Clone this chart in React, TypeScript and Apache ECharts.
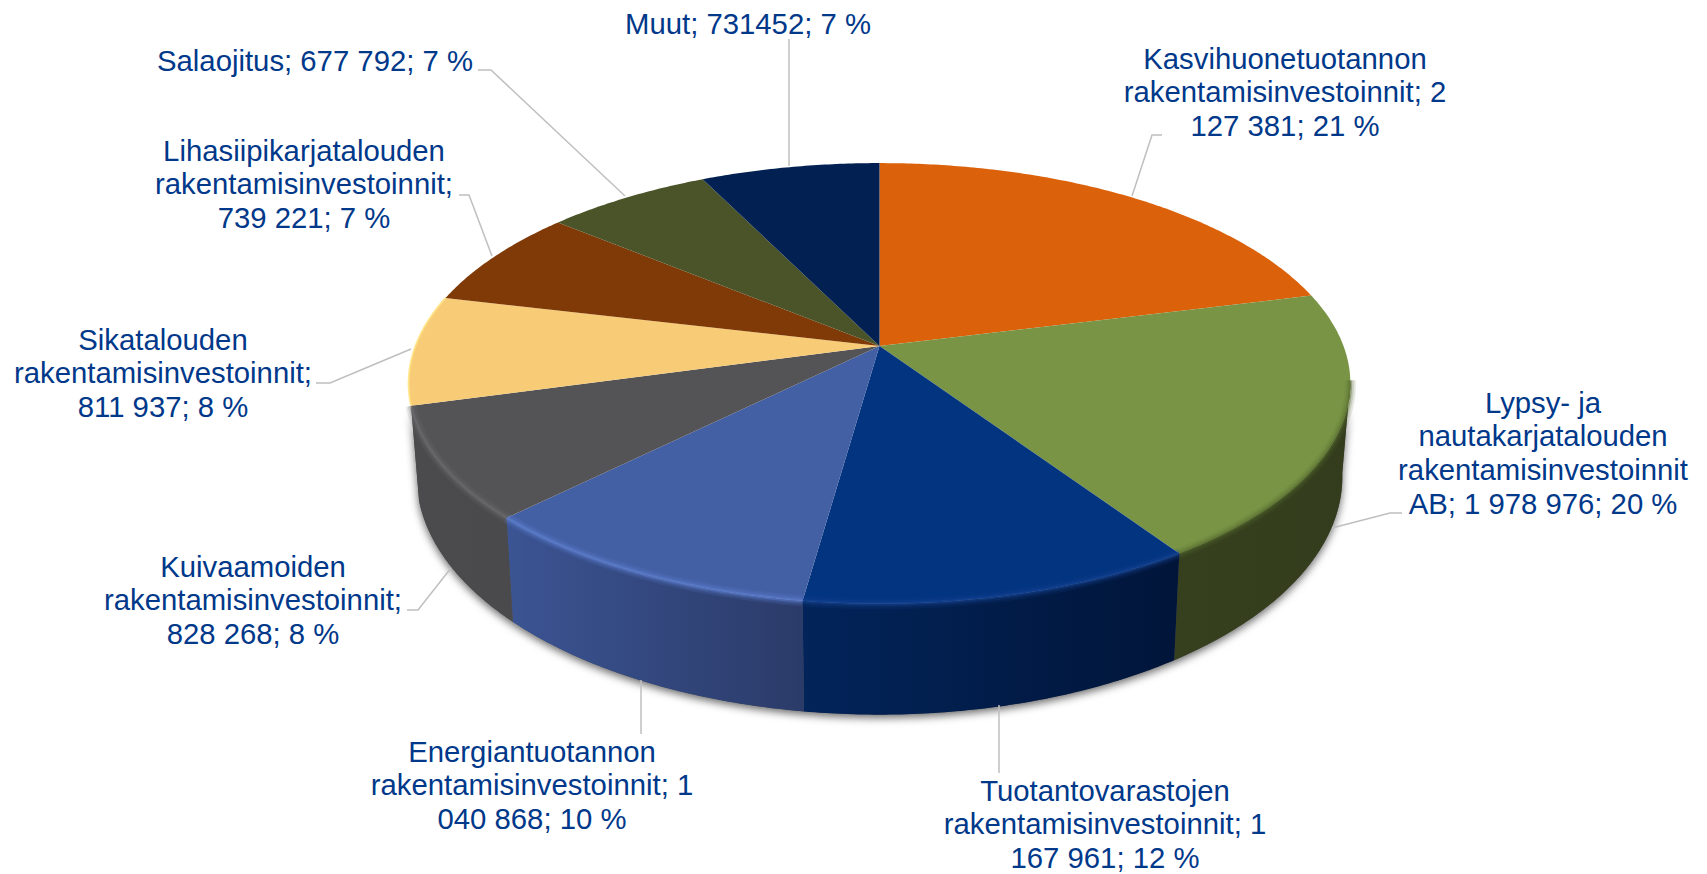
import React, { useEffect, useRef } from "react";
import * as echarts from "echarts";

const categories = [
  "Kasvihuonetuotannon rakentamisinvestoinnit",
  "Lypsy- ja nautakarjatalouden rakentamisinvestoinnit AB",
  "Tuotantovarastojen rakentamisinvestoinnit",
  "Energiantuotannon rakentamisinvestoinnit",
  "Kuivaamoiden rakentamisinvestoinnit",
  "Sikatalouden rakentamisinvestoinnit",
  "Lihasiipikarjatalouden rakentamisinvestoinnit",
  "Salaojitus",
  "Muut",
];
const values = [2127381, 1978976, 1167961, 1040868, 828268, 811937, 739221, 677792, 731452];
const labelLines = [
  ["Kasvihuonetuotannon", "rakentamisinvestoinnit; 2", "127 381; 21 %"],
  ["Lypsy- ja", "nautakarjatalouden", "rakentamisinvestoinnit", "AB; 1 978 976; 20 %"],
  ["Tuotantovarastojen", "rakentamisinvestoinnit; 1", "167 961; 12 %"],
  ["Energiantuotannon", "rakentamisinvestoinnit; 1", "040 868; 10 %"],
  ["Kuivaamoiden", "rakentamisinvestoinnit;", "828 268; 8 %"],
  ["Sikatalouden", "rakentamisinvestoinnit;", "811 937; 8 %"],
  ["Lihasiipikarjatalouden", "rakentamisinvestoinnit;", "739 221; 7 %"],
  ["Salaojitus; 677 792; 7 %"],
  ["Muut; 731452; 7 %"],
];

// Styles
const faceColors = ["#DB620B", "#7A9445", "#03347F", "#4460A5", "#545457", "#F8CB77", "#7F3A07", "#4A5428", "#022152"];
const wallColors: (string[] | null)[] = [
  null,
  ["#36401E", "#333C1C"],
  ["#02245A", "#011539"],
  ["#3B5493", "#2B3B69"],
  ["#4B4B4D", "#4A4A4C"],
  null,
  null,
  null,
  null,
];
const rimColors: (string | null)[] = [null, "#55692F", "#1A4796", "#6488DC", "#707072", "#FFE27F", null, null, null];

// Layout (pixels)
const labelCenters = [
  [1285, 58], [1543, 402], [1105, 790], [532, 751], [253, 566], [163, 339], [304, 150], [315, 60], [748, 23],
];
const leaders = [
  [[1132, 196], [1152, 135], [1162, 135]],
  [[1332, 528], [1390, 513], [1402, 513]],
  [[999, 705], [999, 773]],
  [[641, 680], [641, 734]],
  [[451, 568], [418, 610], [407, 610]],
  [[411, 349], [330, 383], [316, 383]],
  [[492, 256], [469, 195], [459, 195]],
  [[625, 196], [491, 70], [478, 70]],
  [[789, 39], [789, 166]],
];
const LINE_H = 33.7;
const FONT_SIZE = 29.3;

// Perspective projection of the pie disc
const CX = 879.5;
const CY = 346;
const A = 464;
const B = 214;
const K = 0.17;
const WALL_FROM = (99 * Math.PI) / 180;

const total = values.reduce((s, v) => s + v, 0);
const angleAt = (i: number) => (values.slice(0, i).reduce((s, v) => s + v, 0) / total) * Math.PI * 2;

const top = (t: number): number[] => {
  const v = Math.cos(t);
  const w = 1 + K * v;
  return [CX + (A * Math.sin(t)) / w, CY - (B * v) / w];
};
const bottom = (t: number): number[] => {
  const [x, y] = top(t);
  return [CX + (x - CX) * 0.983, y + 107 + (y - 556) * 0.08];
};
const arc = (fn: (t: number) => number[], a: number, b: number): number[][] => {
  const n = Math.max(2, Math.ceil(Math.abs(b - a) / 0.01));
  const out: number[][] = [];
  for (let i = 0; i <= n; i++) out.push(fn(a + ((b - a) * i) / n));
  return out;
};

const renderShadow = () => {
  const from = WALL_FROM;
  const to = angleAt(5);
  return {
    type: "polygon",
    shape: { points: [...arc(top, from, to), ...arc(bottom, to, from)] },
    style: { fill: "#555", shadowBlur: 9, shadowColor: "rgba(0,0,0,0.6)", shadowOffsetY: 3 },
  };
};

const renderWall = (params: any) => {
  const i = params.dataIndex;
  const colors = wallColors[i];
  if (!colors) return { type: "group", children: [] };
  const from = Math.max(angleAt(i), WALL_FROM);
  const to = angleAt(i + 1);
  return {
    type: "polygon",
    shape: { points: [...arc(top, from, to), ...arc(bottom, to, from)] },
    style: {
      fill: new echarts.graphic.LinearGradient(0, 0, 1, 0, [
        { offset: 0, color: colors[0] },
        { offset: 1, color: colors[1] },
      ]),
    },
  };
};

const renderFace = (params: any) => {
  const i = params.dataIndex;
  return {
    type: "polygon",
    shape: { points: [[CX, CY], ...arc(top, angleAt(i), angleAt(i + 1))] },
    style: { fill: faceColors[i] },
  };
};

const renderRim = (params: any) => {
  const i = params.dataIndex;
  const color = rimColors[i];
  if (!color) return { type: "group", children: [] };
  const pts = arc(top, Math.max(angleAt(i), i === 1 ? WALL_FROM : 0), angleAt(i + 1));
  const layers = i === 5 ? [[2, 0.8]] : [[11, 0.14], [7, 0.2], [3.5, 0.4]];
  return {
    type: "group",
    children: layers.map(([w, o]) => ({
      type: "polyline",
      shape: { points: pts },
      style: { stroke: color, lineWidth: w, opacity: o, fill: "none" },
    })),
  };
};

const renderLabel = (params: any) => {
  const i = params.dataIndex;
  const [x, y] = labelCenters[i];
  return {
    type: "group",
    children: [
      {
        type: "polyline",
        shape: { points: leaders[i] },
        style: { stroke: "#BFBFBF", lineWidth: 1.5, fill: "none" },
      },
      ...labelLines[i].map((line, j) => ({
        type: "text",
        x,
        y: y + j * LINE_H,
        style: {
          text: line,
          fill: "#00388A",
          font: `${FONT_SIZE}px "Liberation Sans", Arial, sans-serif`,
          align: "center",
          verticalAlign: "middle",
        },
      })),
    ],
  };
};

export default function App() {
  const ref = useRef<HTMLDivElement>(null);
  useEffect(() => {
    document.body.style.margin = "0";
    const chart = echarts.init(ref.current!, undefined, { renderer: "svg" });
    const data = categories.map((name, i) => ({ name, value: values[i] }));
    const base = { type: "custom", coordinateSystem: "none", silent: true, data };
    chart.setOption({
      animation: false,
      backgroundColor: "#FFFFFF",
      series: [
        { ...base, z: 1, data: [data[0]], renderItem: renderShadow },
        { ...base, z: 2, renderItem: renderWall },
        { ...base, z: 3, renderItem: renderFace },
        { ...base, z: 4, renderItem: renderRim },
        { ...base, z: 5, renderItem: renderLabel },
      ],
    });
    return () => chart.dispose();
  }, []);
  return <div ref={ref} style={{ position: "fixed", left: 0, top: 0, width: 1707, height: 874 }} />;
}
